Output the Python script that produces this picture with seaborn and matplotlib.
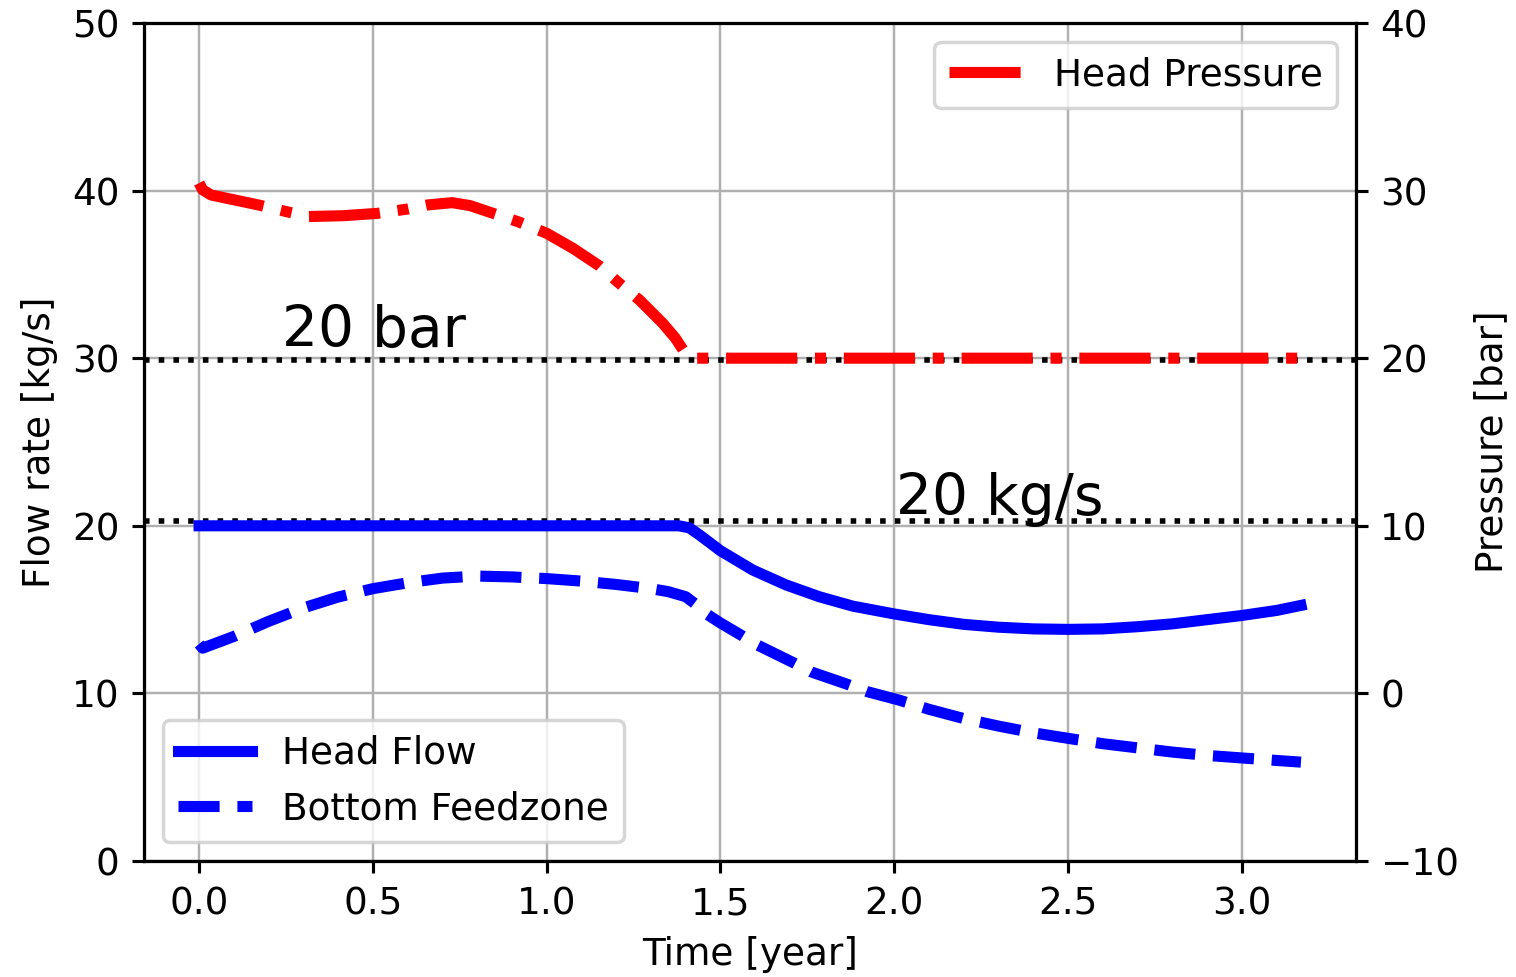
import numpy as np
import pandas as pd
import matplotlib
matplotlib.use("Agg")
import matplotlib.pyplot as plt
import seaborn as sns

# data
flow_t = [0.0, 1.38, 1.41, 1.44, 1.5, 1.593, 1.689, 1.784, 1.88, 2.0, 2.1, 2.2,
          2.3, 2.4, 2.5, 2.6, 2.7, 2.8, 2.9, 3.0, 3.1, 3.17]
head_flow = [20.0, 20.0, 19.88, 19.45, 18.51, 17.36, 16.47, 15.77, 15.21, 14.74,
             14.4, 14.12, 13.95, 13.85, 13.82, 13.85, 13.98, 14.15, 14.4, 14.65,
             14.95, 15.25]

feed_t = [0.0, 0.01, 0.1, 0.2, 0.3, 0.4, 0.5, 0.6, 0.7, 0.8, 0.9, 1.0, 1.1,
          1.2, 1.3, 1.35, 1.40, 1.43, 1.463, 1.5, 1.563, 1.606, 1.713, 1.76,
          1.871, 1.923, 2.014, 2.1, 2.2, 2.3, 2.4, 2.5, 2.6, 2.7, 2.8, 2.9,
          3.0, 3.1, 3.17]
bottom_feed = [12.95, 12.7, 13.4, 14.3, 15.1, 15.75, 16.25, 16.6, 16.88, 17.0,
               16.95, 16.85, 16.7, 16.5, 16.25, 16.07, 15.77, 15.3, 14.7, 14.2,
               13.43, 12.89, 11.8, 11.29, 10.5, 10.1, 9.6, 9.05, 8.5, 8.05,
               7.65, 7.32, 7.0, 6.75, 6.5, 6.3, 6.15, 6.0, 5.9]

press_t = [0.0, 0.01, 0.034, 0.1, 0.171, 0.25, 0.314, 0.414, 0.513, 0.6, 0.656,
           0.728, 0.78, 0.846, 0.918, 1.0, 1.076, 1.152, 1.207, 1.267, 1.334,
           1.37, 1.397, 1.42, 2.0, 2.5, 3.0, 3.17]
head_press = [30.45, 30.05, 29.74, 29.45, 29.14, 28.75, 28.45, 28.5, 28.64, 28.9,
              29.14, 29.28, 29.1, 28.64, 28.14, 27.45, 26.55, 25.5, 24.5, 23.47,
              22.08, 21.2, 20.35, 20.0, 20.0, 20.0, 20.0, 20.0]

flow_limit = 20.27   # dotted line, left axis
press_limit = 19.92  # dotted line, right axis

flow_df = pd.DataFrame({"t": flow_t, "v": head_flow})
feed_df = pd.DataFrame({"t": feed_t, "v": bottom_feed})
press_df = pd.DataFrame({"t": press_t, "v": head_press})

plt.rcParams["font.size"] = 10.75
plt.rcParams["axes.linewidth"] = 0.9

fig = plt.figure(figsize=(6.064, 3.908), dpi=250)
ax = fig.add_axes([0.095, 0.1187, 0.7995, 0.8578])
ax2 = ax.twinx()

ax.grid(True, color="#b0b0b0", linewidth=0.7)
ax.set_axisbelow(True)

ax.axhline(flow_limit, color="black", linestyle=":", linewidth=1.6)
sns.lineplot(data=flow_df, x="t", y="v", ax=ax, color="blue", linewidth=3.2,
             label="Head Flow")
sns.lineplot(data=feed_df, x="t", y="v", ax=ax, color="blue", linewidth=3.2,
             linestyle="--", label="Bottom Feedzone")

ax2.axhline(press_limit, color="black", linestyle=":", linewidth=1.6)
sns.lineplot(data=press_df, x="t", y="v", ax=ax2, color="red", linewidth=3.2,
             linestyle="-.", label="Head Pressure")

ax.set_ylim(0, 50)
ax2.set_ylim(-10, 40)
ax.set_yticks([0, 10, 20, 30, 40, 50])
ax2.set_yticks([-10, 0, 10, 20, 30, 40])
ax.set_xticks([0.0, 0.5, 1.0, 1.5, 2.0, 2.5, 3.0])

ax.set_xlabel("Time [year]")
ax.set_ylabel("Flow rate [kg/s]")
ax2.set_ylabel("Pressure [bar]")

for a in (ax, ax2):
    a.tick_params(length=3.5, width=0.9)

ax.text(0.238, 30.69, "20 bar", fontsize=16.3, ha="left", va="baseline")
ax.text(2.004, 20.64, "20 kg/s", fontsize=16.3, ha="left", va="baseline")

ax.legend(loc="lower left")
ax2.legend(loc="upper right")

fig.savefig("out.png", dpi=250)
